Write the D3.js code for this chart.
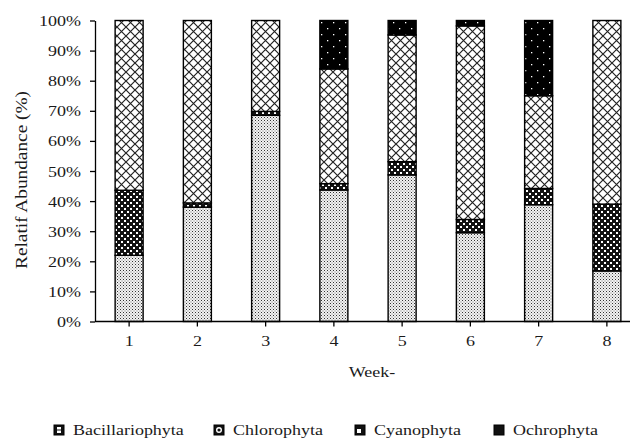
<!DOCTYPE html>
<html lang="en">
<head>
<meta charset="UTF-8">
<title>Relative abundance by week</title>
<script src="https://cdn.jsdelivr.net/npm/d3@7"></script>
<style>
  body { margin: 0; background: #fff; }
  svg text { font-family: "Liberation Serif", serif !important; fill: #1a1a1a; }
  .axis path, .axis line { stroke: #000; stroke-width: 1.3px; }
</style>
</head>
<body>
<svg id="chart" width="630" height="442"></svg>
<script>
// data (percent per week)
const weeks = ["1", "2", "3", "4", "5", "6", "7", "8"];
const bacillariophyta = [22, 38, 68.5, 43.7, 48.7, 29.5, 38.8, 16.8];
const cyanophyta      = [21.6, 1.4, 1.3, 2.1, 4.4, 4.4, 5.4, 22.2];
const chlorophyta     = [56.4, 60.6, 30.2, 38.1, 42.1, 64.3, 30.8, 61];
const ochrophyta      = [0, 0, 0, 16.1, 4.8, 1.8, 25, 0];
const yTicks = [0, 10, 20, 30, 40, 50, 60, 70, 80, 90, 100];

// stacking order bottom -> top, legend order as in the figure
const stackKeys = ["Bacillariophyta", "Cyanophyta", "Chlorophyta", "Ochrophyta"];
const legendKeys = ["Bacillariophyta", "Chlorophyta", "Cyanophyta", "Ochrophyta"];
const seriesByKey = {
  Bacillariophyta: bacillariophyta,
  Cyanophyta: cyanophyta,
  Chlorophyta: chlorophyta,
  Ochrophyta: ochrophyta
};

const rows = weeks.map((w, i) => {
  const r = { week: w };
  stackKeys.forEach(k => r[k] = seriesByKey[k][i]);
  return r;
});

const svg = d3.select("#chart");
const sx = 1.2; // the source figure is stretched horizontally

// patterns
const defs = svg.append("defs");

const pBac = defs.append("pattern").attr("id", "p-Bacillariophyta")
  .attr("patternUnits", "userSpaceOnUse").attr("width", 3).attr("height", 3);
pBac.append("rect").attr("width", 3).attr("height", 3).attr("fill", "#f2f2f2");
[[0, 0, "#333"], [1.5, 1.5, "#777"]].forEach(d =>
  pBac.append("rect").attr("x", d[0]).attr("y", d[1]).attr("width", 1).attr("height", 1).attr("fill", d[2]));

const pCya = defs.append("pattern").attr("id", "p-Cyanophyta")
  .attr("patternUnits", "userSpaceOnUse").attr("width", 6).attr("height", 6);
pCya.append("rect").attr("width", 6).attr("height", 6).attr("fill", "#111");
[[1, 1], [4, 4]].forEach(d =>
  pCya.append("rect").attr("x", d[0]).attr("y", d[1]).attr("width", 2).attr("height", 2).attr("fill", "#fff"));

const pChl = defs.append("pattern").attr("id", "p-Chlorophyta")
  .attr("patternUnits", "userSpaceOnUse").attr("width", 9).attr("height", 9);
pChl.append("rect").attr("width", 9).attr("height", 9).attr("fill", "#fff");
pChl.append("path").attr("d", "M0,0L9,9M9,0L0,9")
  .attr("stroke", "#222").attr("stroke-width", 1.2).attr("fill", "none");

const pOch = defs.append("pattern").attr("id", "p-Ochrophyta")
  .attr("patternUnits", "userSpaceOnUse").attr("width", 12).attr("height", 12);
pOch.append("rect").attr("width", 12).attr("height", 12).attr("fill", "#000");
[[3, 4], [9, 10]].forEach(d =>
  pOch.append("rect").attr("x", d[0]).attr("y", d[1]).attr("width", 1.3).attr("height", 1.3).attr("fill", "#fff"));

// scales
const x = d3.scaleBand().domain(weeks).range([95, 641]).padding(0);
const y = d3.scaleLinear().domain([0, 100]).range([321.5, 20.5]);
const barW = 28;

const stacked = d3.stack().keys(stackKeys)(rows);

svg.append("g").selectAll("g")
  .data(stacked)
  .join("g")
  .attr("fill", d => `url(#p-${d.key})`)
  .selectAll("rect")
  .data(d => d.filter(s => s[1] - s[0] > 0))
  .join("rect")
  .attr("x", d => x(d.data.week) + x.bandwidth() / 2 - barW / 2)
  .attr("width", barW)
  .attr("y", d => y(d[1]))
  .attr("height", d => y(d[0]) - y(d[1]))
  .attr("stroke", "#000")
  .attr("stroke-width", 1.4);

// axes
const yAxis = svg.append("g").attr("class", "axis")
  .attr("transform", "translate(95,0)")
  .call(d3.axisLeft(y).tickValues(yTicks).tickSize(5).tickSizeOuter(0).tickFormat(d => d + "%"));
yAxis.selectAll("text")
  .attr("x", null).attr("dy", null)
  .style("font-size", "15px")
  .attr("text-anchor", "end")
  .attr("transform", `translate(-14,5) scale(${sx},1)`);

const xAxis = svg.append("g").attr("class", "axis")
  .attr("transform", "translate(0,321.5)")
  .call(d3.axisBottom(x).tickSize(5).tickSizeOuter(0));
xAxis.select(".domain").attr("d", "M95,0H630");
xAxis.selectAll("text")
  .attr("y", null).attr("dy", null)
  .style("font-size", "15px")
  .attr("transform", `translate(0,24) scale(${sx},1)`);

// axis titles
svg.append("text")
  .attr("transform", "translate(27,180) rotate(-90)")
  .attr("text-anchor", "middle")
  .attr("textLength", 178)
  .attr("lengthAdjust", "spacingAndGlyphs")
  .style("font-size", "16px")
  .text("Relatif  Abundance (%)");

svg.append("text")
  .attr("transform", `translate(372,377) scale(${sx},1)`)
  .attr("text-anchor", "middle")
  .style("font-size", "15px")
  .text("Week-");

// legend: small dark swatches as in the figure
const legendX = [54, 214, 355, 494];
const legend = svg.append("g").selectAll("g")
  .data(legendKeys)
  .join("g")
  .attr("transform", (d, i) => `translate(${legendX[i]},425)`);
legend.append("rect")
  .attr("width", 10).attr("height", 10)
  .attr("fill", "#111")
  .attr("stroke", "#000").attr("stroke-width", 1);
legend.filter(d => d === "Bacillariophyta").each(function () {
  const g = d3.select(this);
  g.append("rect").attr("x", 3).attr("y", 2).attr("width", 4).attr("height", 2.5).attr("fill", "#fff");
  g.append("rect").attr("x", 3).attr("y", 5.5).attr("width", 4).attr("height", 2.5).attr("fill", "#fff");
});
legend.filter(d => d === "Chlorophyta")
  .append("circle").attr("cx", 5).attr("cy", 5).attr("r", 2.3)
  .attr("fill", "none").attr("stroke", "#fff").attr("stroke-width", 1.4);
legend.filter(d => d === "Cyanophyta")
  .append("rect").attr("x", 2).attr("y", 4).attr("width", 4).attr("height", 4).attr("fill", "#fff");
legend.append("text")
  .attr("transform", `translate(19,10) scale(${sx},1)`)
  .style("font-size", "15px")
  .text(d => d);
</script>
</body>
</html>
